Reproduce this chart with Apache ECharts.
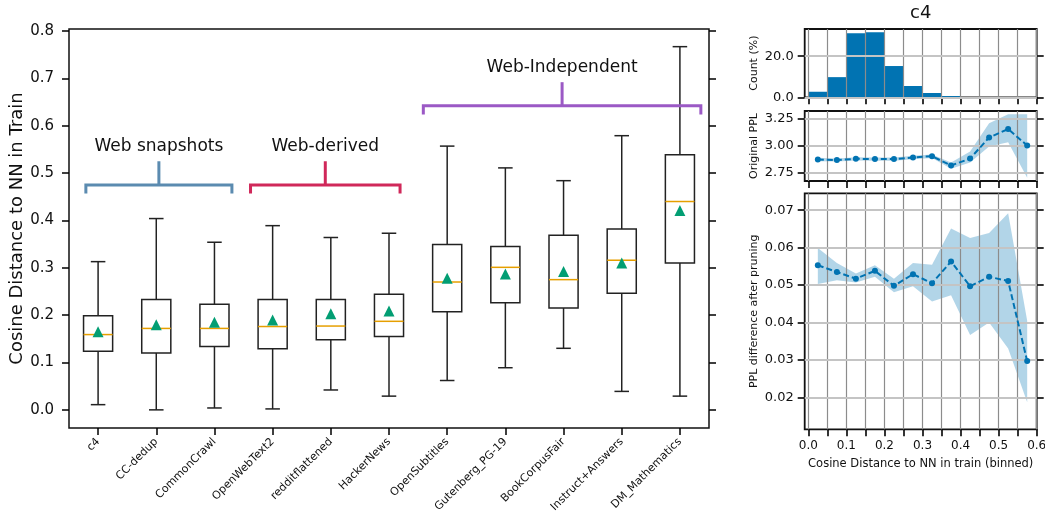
<!DOCTYPE html>
<html>
<head>
<meta charset="utf-8">
<script src="https://cdn.jsdelivr.net/npm/echarts@6/dist/echarts.min.js"></script>
<style>
html,body{margin:0;padding:0;background:#fff;}
#chart{width:1045px;height:519px;}
</style>
</head>
<body>
<div id="chart"></div>
<script>
// ---------- Left panel: distribution of cosine distances ----------
const categories = ['c4','CC-dedup','CommonCrawl','OpenWebText2','redditflattened','HackerNews','OpenSubtitles','Gutenberg_PG-19','BookCorpusFair','Instruct+Answers','DM_Mathematics'];
const whiskerLow  = [0.011, 0.000, 0.004, 0.002, 0.042, 0.029, 0.062, 0.089, 0.130, 0.039, 0.029];
const q1          = [0.124, 0.120, 0.134, 0.129, 0.148, 0.155, 0.207, 0.226, 0.215, 0.246, 0.310];
const medians     = [0.159, 0.172, 0.172, 0.176, 0.177, 0.187, 0.270, 0.301, 0.275, 0.316, 0.440];
const q3          = [0.199, 0.233, 0.223, 0.233, 0.233, 0.244, 0.349, 0.345, 0.369, 0.382, 0.539];
const whiskerHigh = [0.313, 0.404, 0.354, 0.389, 0.364, 0.373, 0.557, 0.511, 0.484, 0.579, 0.767];
const means       = [0.165, 0.180, 0.185, 0.190, 0.203, 0.209, 0.278, 0.287, 0.292, 0.310, 0.421];
const leftYTicks  = [0, 0.1, 0.2, 0.3, 0.4, 0.5, 0.6, 0.7, 0.8];

// group annotations (bracket labels)
const groupLabels = ['Web snapshots', 'Web-derived', 'Web-Independent'];
const groupFrom   = [0.79, 3.62, 6.59];
const groupTo     = [3.30, 6.19, 11.36];
const groupLevel  = [0.475, 0.475, 0.642];
const groupColors = ['#5b8bb0', '#d0285a', '#9b59c5'];

// ---------- Right panels: c4 binned ----------
const binCenters = [0.025, 0.075, 0.125, 0.175, 0.225, 0.275, 0.325, 0.375, 0.425, 0.475, 0.525, 0.575];
const countPct   = [2.7, 9.8, 31.1, 31.6, 15.2, 5.5, 2.1, 0.6, 0.15, 0.05, 0.05, 0.02];
const origPPL     = [2.871, 2.866, 2.878, 2.875, 2.875, 2.890, 2.902, 2.816, 2.880, 3.074, 3.151, 3.000];
const origPPLLow  = [2.855, 2.852, 2.863, 2.860, 2.860, 2.874, 2.886, 2.786, 2.845, 2.990, 3.030, 2.703];
const origPPLHigh = [2.887, 2.881, 2.893, 2.890, 2.890, 2.906, 2.918, 2.845, 2.945, 3.205, 3.288, 3.288];
const pplDiff     = [0.0553, 0.0535, 0.0517, 0.0538, 0.0498, 0.0529, 0.0505, 0.0563, 0.0497, 0.0522, 0.0511, 0.0297];
const pplDiffLow  = [0.0503, 0.0513, 0.0507, 0.0522, 0.0481, 0.0497, 0.0456, 0.0473, 0.0367, 0.0400, 0.0331, 0.0187];
const pplDiffHigh = [0.0599, 0.0559, 0.0531, 0.0553, 0.0517, 0.0559, 0.0554, 0.0651, 0.0626, 0.0639, 0.0692, 0.0405];
const rightXTicks  = [0, 0.05, 0.1, 0.15, 0.2, 0.25, 0.3, 0.35, 0.4, 0.45, 0.5, 0.55, 0.6];
const rightXLabels = [0, 0.1, 0.2, 0.3, 0.4, 0.5, 0.6];
const countTicks   = [0, 20];
const origTicks    = [2.75, 3.0, 3.25];
const diffTicks    = [0.02, 0.03, 0.04, 0.05, 0.06, 0.07];

// ---------- styling ----------
const FONT = 'DejaVu Sans';
const BLUE = '#0173b2';
const BAND = 'rgba(1,115,178,0.3)';
const VGRID = '#8c8c8c';
const HGRID = '#c4c4c4';

const chart = echarts.init(document.getElementById('chart'), null, {renderer: 'canvas'});

const rightGridLeft = 804.7, rightGridWidth = 232;

function rightX(gridIndex, withLabels) {
  return {
    type: 'value', gridIndex, min: -0.0095, max: 0.6,
    axisLine: {show: false, onZero: false},
    splitLine: {show: false},
    axisTick: {show: true, length: 7, customValues: rightXTicks, lineStyle: {color: '#000', width: 1.6}},
    axisLabel: withLabels ? {show: true, customValues: rightXLabels, margin: 11, fontSize: 12, color: '#111', fontFamily: FONT, formatter: v => v.toFixed(1)} : {show: false},
    name: withLabels ? 'Cosine Distance to NN in train (binned)' : '',
    nameLocation: 'middle', nameGap: 29,
    nameTextStyle: {fontSize: 11.5, color: '#111', fontFamily: FONT}
  };
}
function rightY(gridIndex, min, max, ticks, digits, name, pos) {
  const left = pos === 'left';
  return {
    type: 'value', gridIndex, min, max, position: pos,
    axisLine: {show: false, onZero: false},
    splitLine: {show: false},
    axisTick: {show: true, length: 7, customValues: ticks, lineStyle: {color: '#000', width: 1.6}},
    axisLabel: left ? {show: true, customValues: ticks, margin: 11, fontSize: 13, color: '#111', fontFamily: FONT, formatter: v => v.toFixed(digits)} : {show: false},
    name: left ? name : '',
    nameLocation: 'middle', nameGap: 45,
    nameTextStyle: {fontSize: 11, color: '#111', fontFamily: FONT}
  };
}
function gridLines(ticksY) {
  const d = rightXTicks.map(v => ({xAxis: v, lineStyle: {color: VGRID, width: 1.2, type: 'solid'}}));
  ticksY.forEach(v => d.push({yAxis: v, lineStyle: {color: HGRID, width: 1.8, type: 'solid'}}));
  return {silent: true, symbol: ['none', 'none'], label: {show: false}, animation: false, data: d};
}

const boxData = categories.map((c, i) => [i, whiskerLow[i], q1[i], medians[i], q3[i], whiskerHigh[i]]);
const bracketData = groupLabels.map((g, i) => [groupFrom[i], groupTo[i], groupLevel[i], i]);
const histWidth = binCenters[1] - binCenters[0];
const histData = binCenters.map((x, i) => [x - histWidth / 2, x + histWidth / 2, countPct[i]]);

function bandSeries(xIdx, yIdx, lo, hi, ticksY) {
  return {
    type: 'custom', xAxisIndex: xIdx, yAxisIndex: yIdx, z: 2,
    data: binCenters.map((x, i) => [x, lo[i], hi[i]]),
    encode: {x: 0, y: [1, 2]},
    renderItem: (params, api) => {
      if (params.dataIndex !== 0) return null;
      const pts = [];
      for (let i = 0; i < binCenters.length; i++) pts.push(api.coord([binCenters[i], hi[i]]));
      for (let i = binCenters.length - 1; i >= 0; i--) pts.push(api.coord([binCenters[i], lo[i]]));
      return {type: 'polygon', shape: {points: pts}, style: {fill: BAND}};
    },
    markLine: gridLines(ticksY)
  };
}
function lineSeries(xIdx, yIdx, vals) {
  return {
    type: 'line', xAxisIndex: xIdx, yAxisIndex: yIdx, z: 5,
    data: binCenters.map((x, i) => [x, vals[i]]),
    symbol: 'circle', symbolSize: 6,
    itemStyle: {color: BLUE, opacity: 1},
    lineStyle: {color: BLUE, width: 2, type: [6, 3]}
  };
}

const gridBase = {show: true, borderColor: '#111', containLabel: false, outerBoundsMode: 'none'};

const option = {
  animation: false,
  textStyle: {fontFamily: FONT},
  title: {
    text: 'c4', left: rightGridLeft + rightGridWidth / 2, top: 4, padding: 0, textAlign: 'center',
    textStyle: {fontSize: 18, fontWeight: 'normal', color: '#111', fontFamily: FONT}
  },
  grid: [
    Object.assign({}, gridBase, {left: 69, top: 29, width: 640, height: 399, borderWidth: 1.5}),
    Object.assign({}, gridBase, {left: rightGridLeft, top: 29, width: rightGridWidth, height: 68.3, borderWidth: 1.8}),
    Object.assign({}, gridBase, {left: rightGridLeft, top: 111, width: rightGridWidth, height: 70, borderWidth: 1.8}),
    Object.assign({}, gridBase, {left: rightGridLeft, top: 193.3, width: rightGridWidth, height: 236, borderWidth: 1.8})
  ],
  xAxis: [
    {
      type: 'category', gridIndex: 0, data: categories, boundaryGap: true,
      axisLine: {show: false, onZero: false},
      axisTick: {show: true, alignWithLabel: true, interval: 0, length: 7, lineStyle: {color: '#000', width: 1.5}},
      axisLabel: {interval: 0, rotate: 45, fontSize: 11, margin: 12, color: '#111', fontFamily: FONT},
      splitLine: {show: false}
    },
    {type: 'value', gridIndex: 0, min: 0.5, max: 11.5, show: false, axisLine: {onZero: false}},
    rightX(1, false),
    rightX(2, false),
    rightX(3, true)
  ],
  yAxis: [
    {
      type: 'value', gridIndex: 0, min: -0.0383, max: 0.8043, position: 'left',
      axisLine: {show: false, onZero: false}, splitLine: {show: false},
      axisTick: {show: true, length: 7, customValues: leftYTicks, lineStyle: {color: '#000', width: 1.5}},
      axisLabel: {customValues: leftYTicks, margin: 15, fontSize: 15, color: '#111', fontFamily: FONT, formatter: v => v.toFixed(1)},
      name: 'Cosine Distance to NN in Train', nameLocation: 'middle', nameGap: 43, nameMoveOverlap: false,
      nameTextStyle: {fontSize: 18, color: '#111', fontFamily: FONT}
    },
    {
      type: 'value', gridIndex: 0, min: -0.0383, max: 0.8043, position: 'right',
      axisLine: {show: false, onZero: false}, splitLine: {show: false},
      axisTick: {show: true, length: 7, customValues: leftYTicks, lineStyle: {color: '#000', width: 1.5}},
      axisLabel: {show: false}
    },
    rightY(1, 0, 33.2, countTicks, 1, 'Count (%)', 'left'),
    rightY(1, 0, 33.2, countTicks, 1, '', 'right'),
    rightY(2, 2.674, 3.317, origTicks, 2, 'Original PPL', 'left'),
    rightY(2, 2.674, 3.317, origTicks, 2, '', 'right'),
    rightY(3, 0.0115, 0.0745, diffTicks, 2, 'PPL difference after pruning', 'left'),
    rightY(3, 0.0115, 0.0745, diffTicks, 2, '', 'right')
  ],
  series: [
    {
      type: 'custom', xAxisIndex: 0, yAxisIndex: 0, z: 3,
      data: boxData,
      encode: {x: 0, y: [1, 2, 3, 4, 5]},
      renderItem: (params, api) => {
        const x = api.value(0);
        const lo = api.coord([x, api.value(1)]);
        const b1 = api.coord([x, api.value(2)]);
        const md = api.coord([x, api.value(3)]);
        const b3 = api.coord([x, api.value(4)]);
        const hi = api.coord([x, api.value(5)]);
        const band = api.size([1, 0])[0];
        const bw = band * 0.5, cw = band * 0.25;
        const cx = lo[0];
        const ls = {stroke: '#222', lineWidth: 1.5, fill: null};
        return {
          type: 'group',
          children: [
            {type: 'line', shape: {x1: cx, y1: b1[1], x2: cx, y2: lo[1]}, style: ls},
            {type: 'line', shape: {x1: cx, y1: b3[1], x2: cx, y2: hi[1]}, style: ls},
            {type: 'line', shape: {x1: cx - cw / 2, y1: lo[1], x2: cx + cw / 2, y2: lo[1]}, style: ls},
            {type: 'line', shape: {x1: cx - cw / 2, y1: hi[1], x2: cx + cw / 2, y2: hi[1]}, style: ls},
            {type: 'rect', shape: {x: cx - bw / 2, y: b3[1], width: bw, height: b1[1] - b3[1]}, style: {stroke: '#222', lineWidth: 1.5, fill: 'none'}},
            {type: 'line', shape: {x1: cx - bw / 2, y1: md[1], x2: cx + bw / 2, y2: md[1]}, style: {stroke: '#e69f00', lineWidth: 1.5}}
          ]
        };
      }
    },
    {
      type: 'scatter', xAxisIndex: 0, yAxisIndex: 0, z: 4,
      data: means, symbol: 'triangle', symbolSize: 11,
      itemStyle: {color: '#029e73', opacity: 1}
    },
    {
      type: 'custom', xAxisIndex: 1, yAxisIndex: 0, z: 3,
      data: bracketData,
      encode: {x: [0, 1], y: 2},
      renderItem: (params, api) => {
        const i = api.value(3);
        const x0 = api.value(0), x1 = api.value(1), lv = api.value(2);
        const xm = (x0 + x1) / 2;
        const pA = api.coord([x0, lv]), pB = api.coord([x1, lv]);
        const eA = api.coord([x0, lv - 0.018]), eB = api.coord([x1, lv - 0.018]);
        const sm = api.coord([xm, lv]), st = api.coord([xm, lv + 0.05]);
        const tt = api.coord([xm, lv + 0.081]);
        const s = {stroke: groupColors[i], lineWidth: 3, lineCap: 'butt', fill: null};
        return {
          type: 'group',
          children: [
            {type: 'polyline', shape: {points: [eA, pA, pB, eB]}, style: s},
            {type: 'line', shape: {x1: sm[0], y1: sm[1], x2: st[0], y2: st[1]}, style: s},
            {type: 'text', style: {text: groupLabels[i], x: tt[0], y: tt[1], align: 'center', verticalAlign: 'middle', fontSize: 17, fontFamily: FONT, fill: '#111'}}
          ]
        };
      }
    },
    {
      type: 'custom', xAxisIndex: 2, yAxisIndex: 2, z: 2,
      data: histData,
      encode: {x: [0, 1], y: 2},
      renderItem: (params, api) => {
        const p0 = api.coord([api.value(0), api.value(2)]);
        const p1 = api.coord([api.value(1), 0]);
        return {type: 'rect', shape: {x: p0[0], y: p0[1], width: p1[0] - p0[0], height: p1[1] - p0[1]}, style: {fill: BLUE}};
      },
      markLine: gridLines(countTicks)
    },
    bandSeries(3, 4, origPPLLow, origPPLHigh, origTicks),
    lineSeries(3, 4, origPPL),
    bandSeries(4, 6, pplDiffLow, pplDiffHigh, diffTicks),
    lineSeries(4, 6, pplDiff)
  ]
};
chart.setOption(option);
</script>
</body>
</html>
